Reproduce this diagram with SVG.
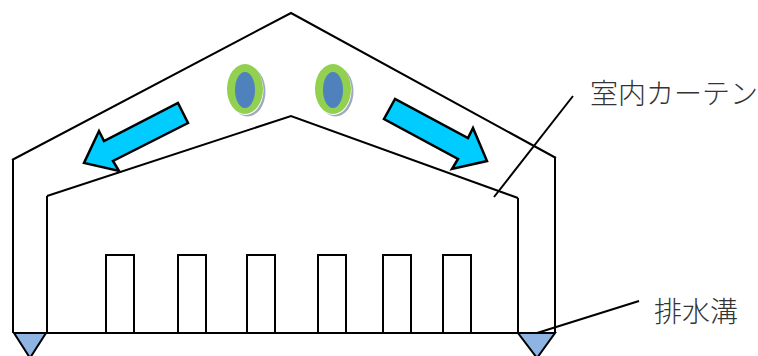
<svg xmlns="http://www.w3.org/2000/svg" width="758" height="356" viewBox="0 0 758 356">
<style>
.l{fill:none;stroke:#000;stroke-width:2}
.r{fill:#fff;stroke:#000;stroke-width:2}
.a{fill:#00ccff;stroke:#000;stroke-width:2.5;stroke-linejoin:miter}
.d{fill:#8eb4e3;stroke:#000;stroke-width:2}
.s{fill:#a0a9bd}
.o{fill:#92d050}
.w{fill:#fff}
.i{fill:#4f81bd}
.t{font-family:"Noto Sans CJK JP","Noto Sans CJK SC",sans-serif;font-size:28px;font-weight:300;fill:#333}
</style>
<rect width="758" height="356" fill="#fff"/>
<g id="connectors">
<path class="l" d="M573 96L494 197"/>
<path class="l" d="M639 301L537 333"/>
</g>
<g id="building">
<path class="l" d="M12 160L291 13L556 158"/>
<path class="l" d="M13 160V333M555 158V333"/>
<path class="l" d="M47 196L291 116L518 198"/>
<path class="l" d="M47 196V333M518 198V333"/>
<path class="l" d="M14 333H555"/>
</g>
<g id="racks">
<rect class="r" x="106" y="255" width="28" height="78"/>
<rect class="r" x="178" y="255" width="28" height="78"/>
<rect class="r" x="247" y="255" width="28" height="78"/>
<rect class="r" x="318" y="255" width="28" height="78"/>
<rect class="r" x="383" y="255" width="28" height="78"/>
<rect class="r" x="443" y="255" width="28" height="78"/>
</g>
<g id="drain-left"><path class="d" d="M14 333H46L30 358Z"/></g>
<g id="drain-right"><path class="d" d="M518 333H555L537 358Z"/></g>
<g id="arrow-left"><path class="a" d="M178 103L188 123L113 161L119 171L84 163L99 131L104 141Z"/></g>
<g id="arrow-right"><path class="a" d="M395 99L384 119L458 159L452 169L487 161L473 128L468 138Z"/></g>
<g id="fan-left">
<ellipse class="s" cx="247.500" cy="91.500" rx="18" ry="25"/>
<ellipse class="w" cx="245.500" cy="90" rx="18" ry="25"/>
<ellipse class="o" cx="245" cy="89" rx="18" ry="25"/>
<ellipse class="i" cx="245" cy="90" rx="10" ry="18"/>
</g>
<g id="fan-right">
<ellipse class="s" cx="335.500" cy="91.500" rx="18" ry="25"/>
<ellipse class="w" cx="333.500" cy="90" rx="18" ry="25"/>
<ellipse class="o" cx="333" cy="89" rx="18" ry="25"/>
<ellipse class="i" cx="333" cy="90" rx="10" ry="18"/>
</g>
<g id="labels">
<text class="t" x="590" y="104">室内カーテン</text>
<text class="t" x="654" y="322">排水溝</text>
</g>
</svg>
